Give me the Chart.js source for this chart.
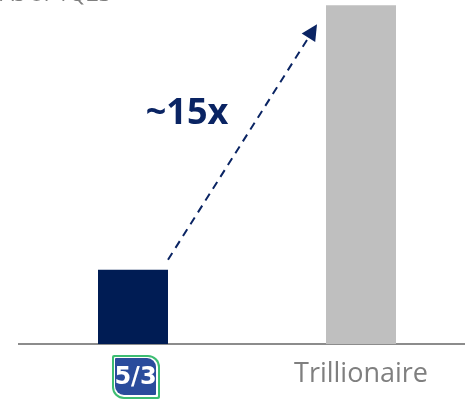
<!DOCTYPE html>
<html>
<head>
<meta charset="utf-8">
<script src="https://cdn.jsdelivr.net/npm/chart.js@4"></script>
<style>
  html, body { margin: 0; padding: 0; background: #fff; }
  #wrap { width: 465px; height: 405px; overflow: hidden; position: relative; }
  #valueChart { position: absolute; left: 0; top: 0; }
</style>
</head>
<body>
<div id="wrap"><canvas id="valueChart" width="480" height="405"></canvas></div>
<script>
// data
const categories = ["Fifth Third", "Trillionaire"];
const values = [21.6, 98.5];
const barColors = ["#001c54", "#bfbfbf"];
const multipleLabel = "~15x";
const headerText = "As of 1Q23";

const navy = "#0a2463";

// draws the cut-off header, the dashed arrow, the ~15x text and the 5/3 logo
const extras = {
  id: "extras",
  afterDatasetsDraw(chart) {
    const ctx = chart.ctx;
    const x = chart.scales.x;
    const y = chart.scales.y;

    // header (mostly cut off at the top of the picture)
    ctx.save();
    ctx.fillStyle = "#7f7f7f";
    ctx.font = "22px 'Open Sans'";
    ctx.textBaseline = "alphabetic";
    ctx.textAlign = "left";
    ctx.fillText(headerText, 0, 1);
    ctx.restore();

    // dashed arrow from top of first bar to top of second bar
    const x0 = x.getPixelForValue(0) + 35;
    const y0 = y.getPixelForValue(values[0]) - 10;
    const x1 = x.getPixelForValue(1) - 44;
    const y1 = y.getPixelForValue(values[1]) + 19;
    const ang = Math.atan2(y1 - y0, x1 - x0);
    const headLen = 16;
    const lx = x1 - Math.cos(ang) * headLen;
    const ly = y1 - Math.sin(ang) * headLen;
    ctx.save();
    ctx.strokeStyle = navy;
    ctx.lineWidth = 2;
    ctx.setLineDash([8, 6]);
    ctx.beginPath();
    ctx.moveTo(x0, y0);
    ctx.lineTo(lx, ly);
    ctx.stroke();
    ctx.setLineDash([]);
    ctx.fillStyle = navy;
    ctx.beginPath();
    ctx.moveTo(x1, y1);
    ctx.lineTo(lx + Math.cos(ang + Math.PI / 2) * 8, ly + Math.sin(ang + Math.PI / 2) * 8);
    ctx.lineTo(lx + Math.cos(ang - Math.PI / 2) * 8, ly + Math.sin(ang - Math.PI / 2) * 8);
    ctx.closePath();
    ctx.fill();

    // multiple label
    ctx.font = "bold 36px 'Open Sans'";
    ctx.textAlign = "center";
    ctx.textBaseline = "middle";
    ctx.fillText(multipleLabel, 187, 114);
    ctx.restore();

    // Fifth Third logo under first bar
    const cx = x.getPixelForValue(0);
    const lx0 = cx - 21, ly0 = 355, w = 48, h = 44;
    ctx.save();
    ctx.fillStyle = "#3dbd72";
    ctx.beginPath();
    ctx.roundRect(lx0, ly0, w, h, [2, 12, 2, 12]);
    ctx.fill();
    ctx.fillStyle = "#fff";
    ctx.beginPath();
    ctx.roundRect(lx0 + 2, ly0 + 2, w - 4, h - 4, [1, 10, 1, 10]);
    ctx.fill();
    ctx.fillStyle = "#2a4c9c";
    ctx.beginPath();
    ctx.roundRect(lx0 + 3, ly0 + 3, w - 7, h - 7, [1, 9, 1, 9]);
    ctx.fill();
    ctx.fillStyle = "#fff";
    ctx.font = "bold 24px 'DejaVu Sans'";
    ctx.textAlign = "center";
    ctx.textBaseline = "middle";
    ctx.fillText("5/3", lx0 + 3 + (w - 7) / 2, ly0 + 3 + (h - 7) / 2 + 1);
    ctx.restore();
  }
};

var ctx = document.getElementById("valueChart").getContext("2d");
var chart = new Chart(ctx, {
  type: "bar",
  data: {
    labels: categories,
    datasets: [
      {
        data: values,
        backgroundColor: barColors,
        borderWidth: 0,
        barPercentage: 0.307,
        categoryPercentage: 1,
      },
    ],
  },
  options: {
    responsive: false,
    animation: false,
    layout: {
      padding: { left: 19, right: 5, top: 0, bottom: 0 }
    },
    scales: {
      x: {
        grid: { display: false, drawTicks: false },
        border: { display: true, color: "#8c8c8c", width: 2 },
        ticks: {
          color: "#7f7f7f",
          font: { family: "'Open Sans'", size: 27, lineHeight: 1 },
          padding: 17,
          callback: function (v, i) {
            // first category is shown as a logo
            return i === 0 ? "" : categories[i];
          }
        }
      },
      y: {
        display: false,
        min: 0,
        max: 100,
      }
    },
    plugins: {
      legend: { display: false },
      tooltip: { enabled: false },
    },
  },
  plugins: [extras],
});
</script>
</body>
</html>
